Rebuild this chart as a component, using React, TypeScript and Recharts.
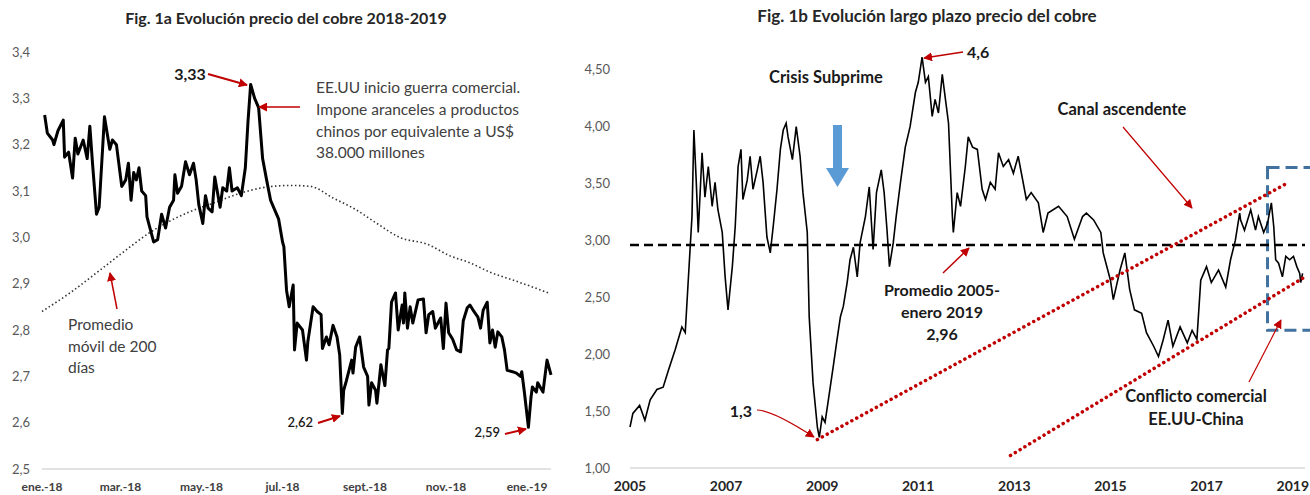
import React from 'react';
import { LineChart, Line, XAxis, YAxis, ReferenceLine, ReferenceArea } from 'recharts';

const FUENTE = 'Lato, "Noto Sans", sans-serif';
const ROJO = '#c00000';

// Fig. 1a: precio diario 2018 - ene 2019 (dia 0 = 1 ene 2018)
const diasCobre = [
  2, 4, 8, 9, 12, 16, 17, 20, 23, 25, 27, 31, 34, 36, 38, 41, 43, 47, 51, 53, 56, 60, 63, 65, 67,
  69, 71, 73, 75, 78, 79, 84, 87, 90, 93, 96, 99, 100, 102, 105, 108, 111, 114, 116, 118, 121, 123,
  125, 128, 130, 134, 136, 139, 141, 143, 147, 150, 153, 155, 157, 160, 163, 166, 169, 172, 175, 178,
  181, 182, 184, 186, 189, 190, 192, 196, 199, 200, 204, 207, 210, 211, 214, 216, 219, 222, 224, 226,
  227, 229, 233, 234, 236, 239, 242, 245, 246, 248, 251, 252, 255, 258, 260, 261, 263, 266, 268, 271,
  272, 273, 275, 277, 279, 283, 287, 289, 291, 294, 296, 298, 300, 302, 304, 306, 309, 312, 315, 317,
  320, 322, 325, 328, 330, 332, 335, 337, 339, 341, 343, 346, 348, 350, 354, 357, 360, 361, 363, 366,
  368, 369, 372, 373, 377, 378, 380, 383,
];
const precioCobre = [
  3.264, 3.225, 3.21, 3.2, 3.23, 3.253, 3.173, 3.184, 3.128, 3.214, 3.18, 3.21, 3.17, 3.24, 3.16, 3.05,
  3.065, 3.26, 3.19, 3.21, 3.2, 3.11, 3.124, 3.16, 3.08, 3.14, 3.124, 3.15, 3.1, 3.09, 3.044, 2.99, 2.995,
  3.05, 3.02, 3.065, 3.08, 3.135, 3.095, 3.11, 3.163, 3.135, 3.16, 3.124, 3.07, 3.03, 3.09, 3.063, 3.055,
  3.13, 3.065, 3.107, 3.1, 3.15, 3.1, 3.107, 3.09, 3.15, 3.25, 3.33, 3.3, 3.28, 3.17, 3.124, 3.08, 3.06,
  3.04, 2.99, 2.98, 2.886, 2.85, 2.897, 2.757, 2.815, 2.8, 2.735, 2.774, 2.85, 2.84, 2.833, 2.76, 2.785,
  2.768, 2.81, 2.785, 2.746, 2.62, 2.67, 2.69, 2.735, 2.707, 2.763, 2.785, 2.72, 2.7, 2.638, 2.686, 2.67,
  2.642, 2.725, 2.68, 2.757, 2.76, 2.86, 2.88, 2.8, 2.854, 2.815, 2.88, 2.804, 2.85, 2.815, 2.865, 2.867,
  2.794, 2.833, 2.84, 2.804, 2.815, 2.826, 2.76, 2.858, 2.794, 2.78, 2.757, 2.753, 2.82, 2.848, 2.854,
  2.84, 2.828, 2.804, 2.843, 2.86, 2.772, 2.8, 2.763, 2.796, 2.785, 2.757, 2.713, 2.71, 2.707, 2.7, 2.71,
  2.665, 2.59, 2.656, 2.677, 2.666, 2.686, 2.666, 2.69, 2.735, 2.703,
];
const diasMedia = [0, 21, 44, 62, 81, 111, 130, 149, 168, 187, 202, 219, 236, 252, 269, 290, 307, 322, 337, 352, 367, 381];
const media200 = [
  2.84, 2.88, 2.93, 2.97, 3.01, 3.055, 3.075, 3.095, 3.108, 3.112, 3.11, 3.085, 3.06, 3.03, 3.0, 2.985,
  2.96, 2.945, 2.925, 2.91, 2.895, 2.88,
];
const ticksMeses = [0, 59, 120, 181, 243, 304, 365];
const etiquetasMeses = ['ene.-18', 'mar.-18', 'may.-18', 'jul.-18', 'sept.-18', 'nov.-18', 'ene.-19'];
const ticksCorto = [2.5, 2.6, 2.7, 2.8, 2.9, 3.0, 3.1, 3.2, 3.3, 3.4];

// Fig. 1b: precio largo plazo 2005 - ene 2019
const aniosLargo = [
  2005.0, 2005.06, 2005.2, 2005.31, 2005.42, 2005.56, 2005.69, 2005.8, 2005.94, 2006.08, 2006.15, 2006.21,
  2006.29, 2006.33, 2006.38, 2006.42, 2006.5, 2006.56, 2006.63, 2006.71, 2006.77, 2006.83, 2006.92, 2006.98,
  2007.04, 2007.13, 2007.19, 2007.25, 2007.31, 2007.35, 2007.44, 2007.5, 2007.56, 2007.65, 2007.71, 2007.77,
  2007.85, 2007.92, 2007.98, 2008.06, 2008.13, 2008.19, 2008.25, 2008.29, 2008.38, 2008.46, 2008.54, 2008.6,
  2008.69, 2008.73, 2008.81, 2008.9, 2008.94, 2009.0, 2009.06, 2009.13, 2009.23, 2009.31, 2009.38, 2009.44,
  2009.52, 2009.58, 2009.65, 2009.73, 2009.79, 2009.9, 2009.98, 2010.06, 2010.13, 2010.23, 2010.29, 2010.35,
  2010.4, 2010.48, 2010.54, 2010.63, 2010.73, 2010.83, 2010.94, 2011.0, 2011.08, 2011.15, 2011.21, 2011.29,
  2011.35, 2011.42, 2011.5, 2011.56, 2011.63, 2011.71, 2011.73, 2011.81, 2011.88, 2011.98, 2012.04, 2012.13,
  2012.23, 2012.33, 2012.4, 2012.5, 2012.6, 2012.67, 2012.77, 2012.88, 2012.98, 2013.08, 2013.25, 2013.35,
  2013.5, 2013.6, 2013.7, 2013.92, 2014.1, 2014.25, 2014.42, 2014.5, 2014.65, 2014.8, 2014.85, 2015.0,
  2015.06, 2015.2, 2015.3, 2015.4, 2015.5, 2015.65, 2015.75, 2015.9, 2016.0, 2016.1, 2016.2, 2016.3,
  2016.45, 2016.6, 2016.7, 2016.8, 2016.88, 2017.0, 2017.1, 2017.25, 2017.4, 2017.5, 2017.6, 2017.69,
  2017.71, 2017.79, 2017.92, 2018.02, 2018.08, 2018.19, 2018.27, 2018.35, 2018.4, 2018.44, 2018.5, 2018.58,
  2018.65, 2018.73, 2018.81, 2018.88, 2018.94, 2018.96, 2019.0,
];
const precioLargo = [
  1.36, 1.48, 1.55, 1.42, 1.6, 1.69, 1.71, 1.86, 2.04, 2.24, 2.19, 2.63,
  3.21, 3.97, 3.51, 3.07, 3.77, 3.38, 3.65, 3.3, 3.51, 3.27, 3.07, 2.68,
  2.39, 2.77, 3.12, 3.65, 3.8, 3.36, 3.53, 3.74, 3.45, 3.62, 3.74, 3.51,
  3.03, 2.89, 3.12, 3.45, 3.8, 3.97, 4.03, 3.91, 3.71, 4.0, 3.74, 3.42,
  3.07, 2.33, 1.75, 1.36, 1.27, 1.45, 1.4, 1.6, 1.89, 2.13, 2.33, 2.42,
  2.63, 2.83, 2.94, 2.68, 2.98, 3.21, 3.47, 2.92, 3.42, 3.62, 3.42, 3.09,
  2.77, 2.98, 3.21, 3.51, 3.82, 4.0, 4.3, 4.39, 4.61, 4.39, 4.44, 4.09,
  4.24, 4.12, 4.46, 4.26, 4.03, 3.21, 3.07, 3.42, 3.3, 3.65, 3.91, 3.82,
  3.8, 3.45, 3.36, 3.51, 3.45, 3.77, 3.65, 3.71, 3.59, 3.74, 3.36, 3.42,
  3.33, 3.07, 3.24, 3.3, 3.21, 3.01, 3.21, 3.24, 3.18, 3.07, 2.89, 2.65,
  2.48, 2.74, 2.89, 2.57, 2.39, 2.36, 2.19, 2.07, 1.98, 2.13, 2.3, 2.07,
  2.24, 2.1, 2.21, 2.13, 2.65, 2.77, 2.63, 2.74, 2.59, 2.83, 3.0, 3.24,
  3.18, 3.09, 3.27, 3.09, 3.21, 3.07, 3.15, 3.33, 3.12, 2.83, 2.8, 2.68,
  2.86, 2.83, 2.86, 2.77, 2.71, 2.63, 2.71,
];
const ticksAnios = [2005, 2007, 2009, 2011, 2013, 2015, 2017, 2019];
const ticksLargo = [1, 1.5, 2, 2.5, 3, 3.5, 4, 4.5];
const promedioLargo = 2.96;
const canalSuperior = [{ x: 2008.9, y: 1.25 }, { x: 2018.71, y: 3.51 }];
const canalInferior = [{ x: 2012.92, y: 1.11 }, { x: 2019.05, y: 2.68 }];

const datosCobre = diasCobre.map((dia, i) => ({ dia, v: precioCobre[i] }));
const datosMedia = diasMedia.map((dia, i) => ({ dia, v: media200[i] }));
const datosLargo = aniosLargo.map((anio, i) => ({ anio, v: precioLargo[i] }));

const coma = (dec: number) => (v: number) => v.toFixed(dec).replace('.', ',');

// el ultimo año queda pegado al borde, se ancla a la derecha para que no se corte
function TickAnio(props: any) {
  const { x, y, payload } = props;
  const borde = x + 16 > 749;
  return (
    <text
      x={borde ? 749 : x}
      y={y}
      dy="0.71em"
      textAnchor={borde ? 'end' : 'middle'}
      fill="#262626"
      fontSize={14}
      fontWeight={700}
      fontFamily={FUENTE}
    >
      {payload.value}
    </text>
  );
}

function GraficoCorto() {
  return (
    <LineChart width={560} height={495} margin={{ top: 52, right: 9, bottom: 0, left: 0 }}>
      <XAxis
        type="number"
        dataKey="dia"
        domain={[0, 383]}
        ticks={ticksMeses}
        interval={0}
        tickFormatter={(v: number) => etiquetasMeses[ticksMeses.indexOf(v)]}
        axisLine={{ stroke: '#d9d9d9', strokeWidth: 1.5 }}
        tickLine={false}
        tickSize={0}
        tickMargin={13}
        height={26}
        tick={{ fill: '#404040', fontSize: 12, fontWeight: 700, fontFamily: FUENTE }}
      />
      <YAxis
        type="number"
        domain={[2.5, 3.4]}
        ticks={ticksCorto}
        interval={0}
        tickFormatter={coma(1)}
        axisLine={false}
        tickLine={false}
        tickSize={0}
        tickMargin={12}
        width={42}
        tick={{ fill: '#595959', fontSize: 13, fontFamily: FUENTE }}
      />
      <Line
        data={datosMedia}
        dataKey="v"
        type="monotone"
        stroke="#333"
        strokeWidth={1.6}
        strokeDasharray="1.5 2.5"
        dot={false}
        isAnimationActive={false}
      />
      <Line
        data={datosCobre}
        dataKey="v"
        type="linear"
        stroke="#000"
        strokeWidth={3}
        strokeLinejoin="round"
        dot={false}
        isAnimationActive={false}
      />
    </LineChart>
  );
}

function GraficoLargo() {
  return (
    <LineChart width={750} height={495} margin={{ top: 47, right: 5, bottom: 0, left: 0 }}>
      <XAxis
        type="number"
        dataKey="anio"
        domain={[2005, 2019.05]}
        ticks={ticksAnios}
        interval={0}
        axisLine={{ stroke: '#d9d9d9', strokeWidth: 1.5 }}
        tickLine={false}
        tickSize={0}
        tickMargin={13}
        height={27}
        tick={<TickAnio />}
      />
      <YAxis
        type="number"
        domain={[1, 4.7]}
        ticks={ticksLargo}
        interval={0}
        tickFormatter={coma(2)}
        axisLine={false}
        tickLine={false}
        tickSize={0}
        tickMargin={20}
        width={70}
        tick={{ fill: '#595959', fontSize: 13, fontFamily: FUENTE }}
      />
      <Line
        data={datosLargo}
        dataKey="v"
        type="linear"
        stroke="#000"
        strokeWidth={1.6}
        dot={false}
        isAnimationActive={false}
      />
      <ReferenceLine y={promedioLargo} stroke="#000" strokeWidth={2.5} strokeDasharray="9 5" />
      <ReferenceLine
        segment={canalSuperior}
        stroke={ROJO}
        strokeWidth={3.5}
        strokeDasharray="0.1 5.5"
        strokeLinecap="round"
      />
      <ReferenceLine
        segment={canalInferior}
        stroke={ROJO}
        strokeWidth={3.5}
        strokeDasharray="0.1 5.5"
        strokeLinecap="round"
      />
      <ReferenceArea
        x1={2018.27}
        x2={2019.5}
        y1={2.21}
        y2={3.64}
        fill="none"
        fillOpacity={0}
        stroke="#41729f"
        strokeWidth={3}
        strokeDasharray="12 6"
        ifOverflow="visible"
      />
    </LineChart>
  );
}

function Anotaciones() {
  const txt = { fontFamily: FUENTE };
  return (
    <svg width={1310} height={495} style={{ position: 'absolute', left: 0, top: 0, pointerEvents: 'none' }}>
      <defs>
        <marker id="punta" viewBox="0 0 10 10" refX="9" refY="5" markerWidth="9" markerHeight="9"
          markerUnits="userSpaceOnUse" orient="auto">
          <path d="M0,0 L10,5 L0,10 z" fill={ROJO} />
        </marker>
      </defs>

      {/* Fig. 1a */}
      <text x={286} y={24} textAnchor="middle" fontSize={16} fontWeight={700} fill="#262626" style={txt}>
        Fig. 1a Evolución precio del cobre 2018-2019
      </text>
      <text x={190} y={80} textAnchor="middle" fontSize={16} fontWeight={700} fill="#1a1a1a" style={txt}>3,33</text>
      <line x1={208} y1={74} x2={247} y2={85} stroke={ROJO} strokeWidth={2} markerEnd="url(#punta)" />
      <line x1={300} y1={107} x2={259} y2={107} stroke={ROJO} strokeWidth={1.5} markerEnd="url(#punta)" />
      <text fontSize={15.5} fill="#404040" style={txt}>
        <tspan x={316} y={93}>EE.UU inicio guerra comercial.</tspan>
        <tspan x={316} y={115}>Impone aranceles a productos</tspan>
        <tspan x={316} y={137}>chinos por equivalente a US$</tspan>
        <tspan x={316} y={158}>38.000 millones</tspan>
      </text>
      <text fontSize={15.5} fill="#404040" style={txt}>
        <tspan x={68} y={330}>Promedio</tspan>
        <tspan x={68} y={352}>móvil de 200</tspan>
        <tspan x={68} y={373}>días</tspan>
      </text>
      <line x1={117} y1={309} x2={110} y2={273} stroke={ROJO} strokeWidth={1.5} markerEnd="url(#punta)" />
      <text x={313} y={427} textAnchor="end" fontSize={13} fontWeight={600} fill="#1a1a1a" style={txt}>2,62</text>
      <line x1={318} y1={423} x2={340} y2={416} stroke={ROJO} strokeWidth={2} markerEnd="url(#punta)" />
      <text x={500} y={437} textAnchor="end" fontSize={13} fontWeight={600} fill="#1a1a1a" style={txt}>2,59</text>
      <line x1={505} y1={434} x2={526} y2={429} stroke={ROJO} strokeWidth={2} markerEnd="url(#punta)" />

      {/* Fig. 1b */}
      <text x={927} y={22} textAnchor="middle" fontSize={17} fontWeight={700} fill="#262626" style={txt}>
        Fig. 1b Evolución largo plazo precio del cobre
      </text>
      <text x={826} y={83} textAnchor="middle" fontSize={16.5} fontWeight={700} fill="#1a1a1a" style={txt}>
        Crisis Subprime
      </text>
      <path d="M833,125 L842,125 L842,168 L849,168 L837.5,187 L826,168 L833,168 Z" fill="#5b9bd5" />
      <text x={967} y={58} fontSize={16} fontWeight={700} fill="#1a1a1a" style={txt}>4,6</text>
      <line x1={963} y1={52} x2={924} y2={58} stroke={ROJO} strokeWidth={1.5} markerEnd="url(#punta)" />
      <text x={1122} y={115} textAnchor="middle" fontSize={16.5} fontWeight={700} fill="#1a1a1a" style={txt}>
        Canal ascendente
      </text>
      <line x1={1123} y1={127} x2={1192} y2={208} stroke={ROJO} strokeWidth={1.2} markerEnd="url(#punta)" />
      <text textAnchor="middle" fontSize={16} fontWeight={700} fill="#1a1a1a" style={txt}>
        <tspan x={942} y={296}>Promedio 2005-</tspan>
        <tspan x={942} y={318}>enero 2019</tspan>
        <tspan x={942} y={340}>2,96</tspan>
      </text>
      <line x1={943} y1={273} x2={969} y2={248} stroke={ROJO} strokeWidth={1.5} markerEnd="url(#punta)" />
      <text x={752} y={417} textAnchor="end" fontSize={16} fontWeight={700} fill="#1a1a1a" style={txt}>1,3</text>
      <path d="M757,410 Q772,410 814,437" fill="none" stroke={ROJO} strokeWidth={1.2} markerEnd="url(#punta)" />
      <text textAnchor="middle" fontSize={16.5} fontWeight={700} fill="#1a1a1a" style={txt}>
        <tspan x={1196} y={402}>Conflicto comercial</tspan>
        <tspan x={1196} y={425}>EE.UU-China</tspan>
      </text>
      <line x1={1249} y1={382} x2={1281} y2={320} stroke={ROJO} strokeWidth={1.2} markerEnd="url(#punta)" />
    </svg>
  );
}

export default function App() {
  return (
    <div style={{ position: 'absolute', left: 0, top: 0, width: 1310, height: 495, background: '#fff', overflow: 'hidden' }}>
      <div style={{ position: 'absolute', left: 0, top: 0 }}>
        <GraficoCorto />
      </div>
      <div style={{ position: 'absolute', left: 560, top: 0 }}>
        <GraficoLargo />
      </div>
      <Anotaciones />
    </div>
  );
}
